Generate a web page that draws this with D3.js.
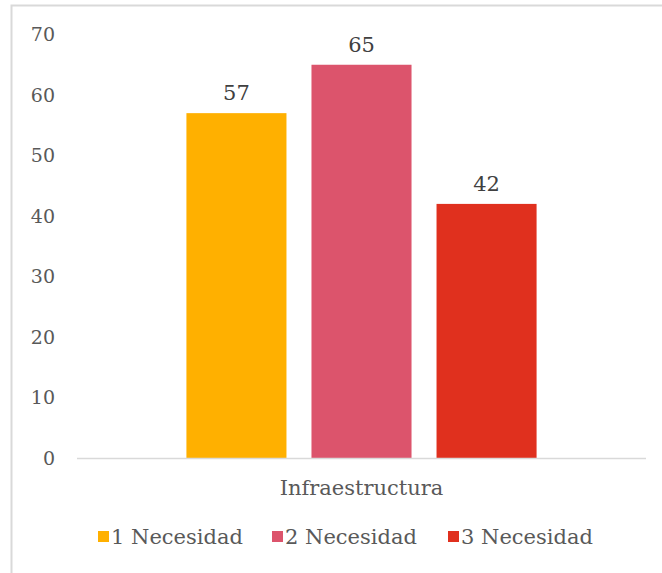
<!DOCTYPE html>
<html><head><meta charset="utf-8">
<script src="https://cdn.jsdelivr.net/npm/d3@7"></script>
<style>body{margin:0;background:#fff}svg{display:block}</style>
</head><body><svg id="c" width="662" height="573"></svg>
<script>
const categories = ["Infraestructura"];
const seriesNames = ["1 Necesidad", "2 Necesidad", "3 Necesidad"];
const seriesValues = [57, 65, 42];
const seriesColors = ["#FFB000", "#DC546C", "#E0301E"];
const yTicks = [0, 10, 20, 30, 40, 50, 60, 70];

(function () {
const svg = d3.select("#c");
const font = "'DejaVu Serif', serif";
const txt = "#595959";

// outer border
svg.append("path").attr("d", "M11.5,573 V5.5 H662").attr("fill", "none").attr("stroke", "#d9d9d9").attr("stroke-width", 2);

const pLeft = 77, pRight = 646, pTop = 34.5, pBottom = 458;
const y = d3.scaleLinear().domain([0, 70]).range([pBottom, pTop]);
const x0 = d3.scaleBand().domain(categories).range([pLeft, pRight]).paddingInner(0).paddingOuter(0.3125);
const x1 = d3.scaleBand().domain(seriesNames).range([0, x0.bandwidth()]).paddingInner(0.2).paddingOuter(0);

// y axis labels
const yAxis = d3.axisLeft(y).tickValues(yTicks).tickSize(0).tickPadding(0);
const ga = svg.append("g").attr("transform", "translate(55,0)").call(yAxis);
ga.select(".domain").remove();
ga.selectAll("text").attr("font-family", font).attr("font-size", 19).attr("fill", txt);

// bars
const g = svg.append("g");
categories.forEach((c) => {
  seriesNames.forEach((s, si) => {
    const v = seriesValues[si];
    const bx = x0(c) + x1(s);
    g.append("rect").attr("x", bx).attr("y", y(v)).attr("width", x1.bandwidth()).attr("height", y(0) - y(v)).attr("fill", seriesColors[si]);
    g.append("text").attr("x", bx + x1.bandwidth() / 2).attr("y", y(v) - 13).attr("text-anchor", "middle")
      .attr("font-family", font).attr("font-size", 21).attr("fill", "#404040").text(v);
  });
});

// baseline
svg.append("line").attr("x1", pLeft).attr("x2", pRight).attr("y1", pBottom + 0.5).attr("y2", pBottom + 0.5).attr("stroke", "#d9d9d9").attr("stroke-width", 1.5);

// x axis
const xAxis = d3.axisBottom(x0).tickSize(0).tickPadding(0);
const gx = svg.append("g").attr("transform", `translate(0,${pBottom + 37})`).call(xAxis);
gx.select(".domain").remove();
gx.selectAll("text").attr("dy", 0).attr("font-family", font).attr("font-size", 21).attr("fill", txt);

// legend
const legX = [98, 272, 448];
seriesNames.forEach((s, i) => {
  const lg = svg.append("g").attr("transform", `translate(${legX[i]},544)`);
  lg.append("rect").attr("x", 0).attr("y", -13).attr("width", 11).attr("height", 11).attr("fill", seriesColors[i]);
  lg.append("text").attr("x", 13).attr("y", 0).attr("font-family", font).attr("font-size", 21).attr("fill", txt).text(s);
});
})();
</script></body></html>
